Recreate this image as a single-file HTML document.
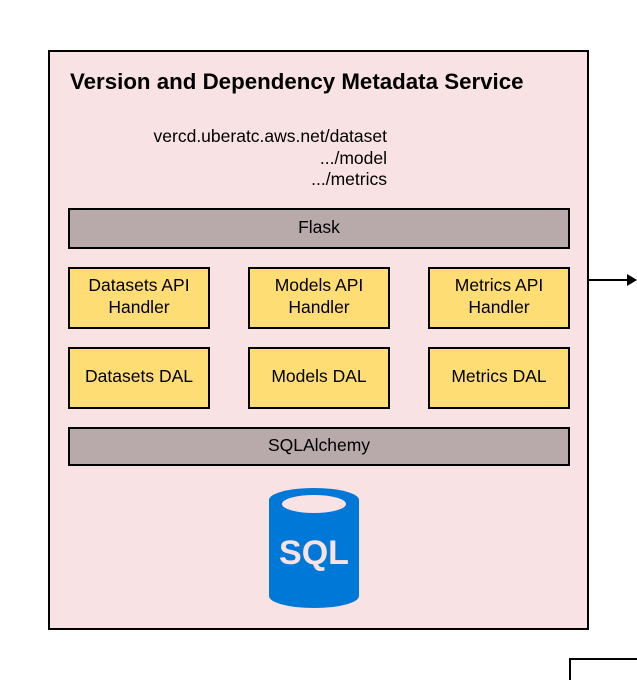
<!DOCTYPE html><html><head><style>
body{margin:0;width:637px;height:680px;background:#fff;position:relative;overflow:hidden;font-family:"Liberation Sans",sans-serif}
.a{position:absolute;box-sizing:border-box}
.b{border:2px solid #000;display:flex;align-items:center;justify-content:center;text-align:center;font-size:17.5px;line-height:22px;padding-bottom:4px}
.g{background:#b8aaaa}.y{background:#fedd74}
</style></head><body>
<div class="a" style="left:48px;top:50px;width:541px;height:580px;border:2px solid #000;background:#f8e2e4"></div>
<div class="a" style="left:70px;top:69px;font-size:22.3px;font-weight:bold">Version and Dependency Metadata Service</div>
<div class="a" style="left:120px;top:126px;width:267px;text-align:right;font-size:17.5px;line-height:21.5px">vercd.uberatc.aws.net/dataset<br>.../model<br>.../metrics</div>
<div class="a b g" style="left:68px;top:208px;width:502px;height:41px">Flask</div>
<div class="a b y" style="left:68px;top:267px;width:142px;height:62px">Datasets API<br>Handler</div>
<div class="a b y" style="left:248px;top:267px;width:142px;height:62px">Models API<br>Handler</div>
<div class="a b y" style="left:428px;top:267px;width:142px;height:62px">Metrics API<br>Handler</div>
<div class="a b y" style="left:68px;top:347px;width:142px;height:62px">Datasets DAL</div>
<div class="a b y" style="left:248px;top:347px;width:142px;height:62px">Models DAL</div>
<div class="a b y" style="left:428px;top:347px;width:142px;height:62px">Metrics DAL</div>
<div class="a b g" style="left:68px;top:427px;width:502px;height:39px">SQLAlchemy</div>
<svg class="a" style="left:0;top:0" width="637" height="680">
<path d="M269 500 A45 12 0 0 1 359 500 L359 596 A45 12 0 0 1 269 596 Z" fill="#0078d7"/>
<ellipse cx="314" cy="504" rx="32" ry="9" fill="#f8e2e4"/>
<text x="314" y="564" text-anchor="middle" font-family="Liberation Sans" font-weight="bold" font-size="34" fill="#f8e2e4">SQL</text>
<line x1="589" y1="280" x2="628" y2="280" stroke="#000" stroke-width="2"/>
<polygon points="627,274 637,280 627,286" fill="#000"/>
<path d="M570 680 L570 659 L637 659" fill="none" stroke="#000" stroke-width="2"/>
</svg>
</body></html>
